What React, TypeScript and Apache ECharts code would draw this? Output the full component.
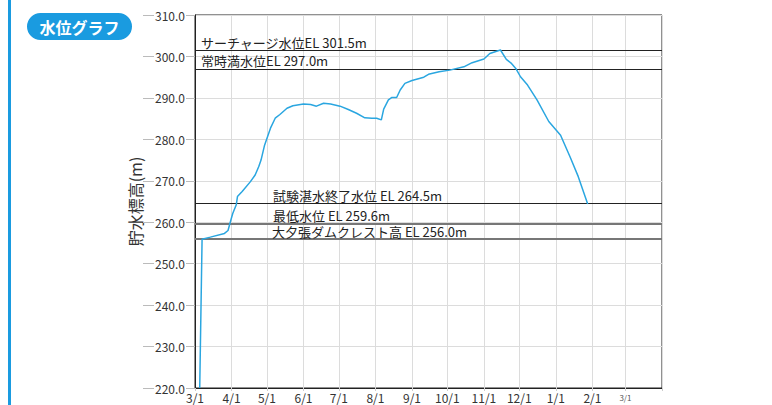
import React, { useEffect, useRef } from "react";
import * as echarts from "echarts";

// ---- data ----
const axisStart = "2014-03-01";
const axisEnd = "2015-04-01";

const dates = [
  "2014-03-05", "2014-03-07", "2014-03-14", "2014-03-26", "2014-03-29", "2014-03-31",
  "2014-04-02", "2014-04-05", "2014-04-06", "2014-04-10", "2014-04-17", "2014-04-21",
  "2014-04-24", "2014-04-26", "2014-04-29", "2014-05-04", "2014-05-08", "2014-05-12",
  "2014-05-18", "2014-05-23", "2014-06-01", "2014-06-07", "2014-06-12", "2014-06-18",
  "2014-06-24", "2014-07-02", "2014-07-09", "2014-07-16", "2014-07-23", "2014-07-29",
  "2014-08-02", "2014-08-06", "2014-08-08", "2014-08-12", "2014-08-15", "2014-08-19",
  "2014-08-22", "2014-08-26", "2014-09-01", "2014-09-11", "2014-09-15", "2014-09-24",
  "2014-10-03", "2014-10-15", "2014-10-22", "2014-11-01", "2014-11-06", "2014-11-15",
  "2014-11-20", "2014-11-24", "2014-11-28", "2014-12-02", "2014-12-08", "2014-12-16",
  "2014-12-26", "2015-01-05", "2015-01-13", "2015-01-20", "2015-01-28",
];
const levels = [
  220.0, 255.9, 256.4, 257.3, 258.0, 260.1,
  262.1, 264.2, 266.2, 267.4, 269.8, 271.4,
  273.4, 275.0, 278.6, 282.7, 285.1, 286.0,
  287.5, 288.1, 288.5, 288.4, 288.0, 288.7,
  288.5, 288.0, 287.2, 286.3, 285.2, 285.1,
  285.1, 284.7, 287.3, 289.5, 290.1, 290.1,
  291.9, 293.5, 294.2, 295.0, 295.7, 296.3,
  296.7, 297.5, 298.5, 299.4, 300.7, 301.55,
  299.3, 298.4, 297.1, 295.1, 293.1, 289.5,
  284.3, 281.0, 275.8, 271.0, 264.4,
];

const refNames = [
  "サーチャージ水位EL 301.5m",
  "常時満水位EL 297.0m",
  "試験湛水終了水位 EL 264.5m",
  "最低水位 EL 259.6m",
  "大夕張ダムクレスト高 EL 256.0m",
];
const refValues = [301.5, 297.0, 264.5, 259.6, 256.0];
const refColors = ["#222", "#222", "#222", "#777", "#777"];
const refWidths = [1.2, 1.2, 1.2, 2, 2];
const refIndent = [4, 4, 76, 76, 76];

const yTitle = "貯水標高(m)";
const badgeText = "水位グラフ";

const FONT = '"Noto Sans CJK JP", "Noto Sans", sans-serif';
const BLUE = "#1a9be0";

function buildDays(start: string, end: string): string[] {
  const out: string[] = [];
  const d = new Date(start + "T00:00:00Z");
  const e = new Date(end + "T00:00:00Z");
  while (d.getTime() <= e.getTime()) {
    out.push(d.toISOString().slice(0, 10));
    d.setUTCDate(d.getUTCDate() + 1);
  }
  return out;
}

const isMonthStart = (_i: number, v: string) => v.endsWith("-01");

export default function App() {
  const ref = useRef<HTMLDivElement>(null);
  useEffect(() => {
    if (!ref.current) return;
    const chart = echarts.init(ref.current, null, { renderer: "svg" });
    const days = buildDays(axisStart, axisEnd);
    const lastYearMar = days[days.length - 32];
    chart.setOption({
      animation: false,
      textStyle: { fontFamily: FONT },
      grid: {
        left: 195,
        top: 15,
        right: 110,
        bottom: 17,
        show: true,
        borderColor: "#222",
        borderWidth: 1,
        backgroundColor: "transparent",
      },
      xAxis: {
        type: "category",
        data: days,
        boundaryGap: false,
        axisLine: { lineStyle: { color: "#222", width: 1 } },
        axisTick: { show: true, interval: isMonthStart, length: 3, lineStyle: { color: "#ccc" } },
        splitLine: { show: true, interval: isMonthStart, lineStyle: { color: "#dcdcdc", width: 1 } },
        axisLabel: {
          interval: isMonthStart,
          margin: 3,
          fontSize: 12,
          lineHeight: 12,
          color: "#333",
          fontFamily: FONT,
          formatter: (v: string) => {
            if (v === axisEnd) return "";
            const m = parseInt(v.slice(5, 7), 10);
            const dd = parseInt(v.slice(8, 10), 10);
            const s = `${m}/${dd}`;
            if (v === lastYearMar) return `{s|${s}}`;
            return s;
          },
          rich: { s: { fontSize: 8, lineHeight: 12, color: "#555", fontFamily: FONT } },
        },
      },
      yAxis: {
        type: "value",
        min: 220,
        max: 310,
        interval: 10,
        name: yTitle,
        nameLocation: "middle",
        nameRotate: 90,
        nameGap: 52,
        nameTextStyle: { fontSize: 16, color: "#333", fontFamily: FONT },
        axisLine: { show: true, lineStyle: { color: "#222", width: 1 } },
        axisTick: { show: true, length: 52, lineStyle: { color: "#bbb" } },
        splitLine: { show: true, lineStyle: { color: "#dcdcdc", width: 1 } },
        axisLabel: {
          margin: 9,
          fontSize: 12,
          color: "#333",
          fontFamily: FONT,
          backgroundColor: "#fff",
          padding: [0, 1, 0, 1],
          formatter: (v: number) => v.toFixed(1),
        },
      },
      series: [
        {
          type: "line",
          data: dates.map((d, i) => [d, levels[i]]),
          symbol: "none",
          lineStyle: { color: "#2aa6e0", width: 1.5 },
          z: 3,
          markLine: {
            silent: true,
            symbol: ["none", "none"],
            z: 2,
            data: refValues.map((v, i) => ({
              yAxis: v,
              name: refNames[i],
              lineStyle: { color: refColors[i], width: refWidths[i], type: "solid" },
              label: {
                show: true,
                position: "insideStartTop",
                formatter: "{b}",
                distance: i === 4 ? 1 : 2,
                fontSize: 13,
                lineHeight: 12,
                color: "#222",
                fontFamily: FONT,
                padding: [0, 0, 0, refIndent[i]],
              },
            })),
          },
        },
      ],
      graphic: [
        {
          type: "rect",
          left: 8,
          top: 0,
          shape: { width: 3, height: 405 },
          style: { fill: BLUE },
          silent: true,
        },
        {
          type: "group",
          left: 27,
          top: 13,
          children: [
            {
              type: "rect",
              shape: { x: 0, y: 0, width: 105, height: 27, r: 13.5 },
              style: { fill: BLUE },
            },
            {
              type: "text",
              x: 52.5,
              y: 13.5,
              style: {
                text: badgeText,
                fill: "#fff",
                font: `bold 16px ${FONT}`,
                align: "center",
                verticalAlign: "middle",
              },
            },
          ],
        },
      ],
    });
    return () => chart.dispose();
  }, []);
  return (
    <div
      ref={ref}
      style={{ position: "fixed", left: 0, top: 0, width: 772, height: 405, background: "#fff" }}
    />
  );
}
